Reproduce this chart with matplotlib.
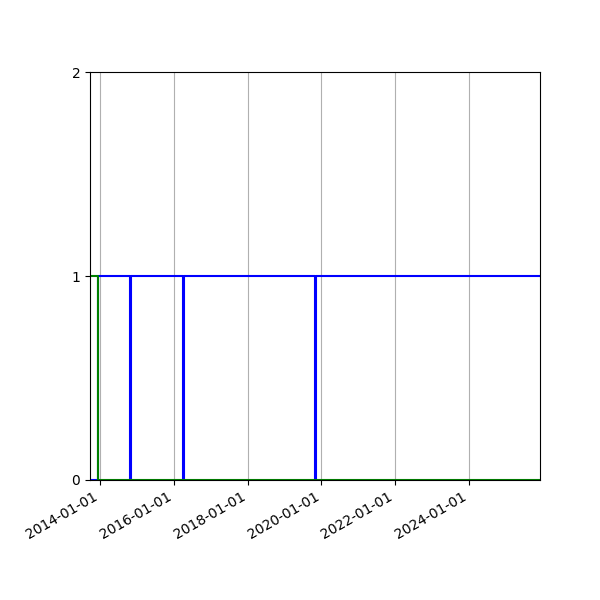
import matplotlib
matplotlib.use("Agg")
import matplotlib.pyplot as plt
import matplotlib.dates as mdates
import numpy as np

# step series (steps-post)
blue_dates = ["2013-09-23", "2013-12-12", "2014-10-24", "2014-11-01",
              "2016-04-02", "2016-04-10", "2019-10-30", "2019-11-07",
              "2025-12-04"]
blue_values = [0, 1, 0, 1, 0, 1, 0, 1, 1]

green_dates = ["2013-09-23", "2013-12-12", "2025-12-04"]
green_values = [1, 0, 0]

x_start = "2013-09-23"
x_end = "2025-12-04"


def to_dt(lst):
    return np.array(lst, dtype="datetime64[D]")


fig, ax = plt.subplots(figsize=(6, 6), dpi=100)
fig.subplots_adjust(left=0.15, right=0.9, top=0.88, bottom=0.2)

ax.plot(to_dt(blue_dates), blue_values, drawstyle="steps-post",
        color="blue", linewidth=1.5)
ax.plot(to_dt(green_dates), green_values, drawstyle="steps-post",
        color="green", linewidth=1.5)

ax.set_xlim(to_dt([x_start])[0], to_dt([x_end])[0])
ax.set_ylim(0, 2)
ax.set_yticks([0, 1, 2])
ax.xaxis.set_major_locator(mdates.YearLocator(2))
ax.xaxis.set_major_formatter(mdates.DateFormatter("%Y-%m-%d"))
ax.grid(axis="x", color="#b0b0b0")
fig.autofmt_xdate()

fig.savefig("out.png", dpi=100)
